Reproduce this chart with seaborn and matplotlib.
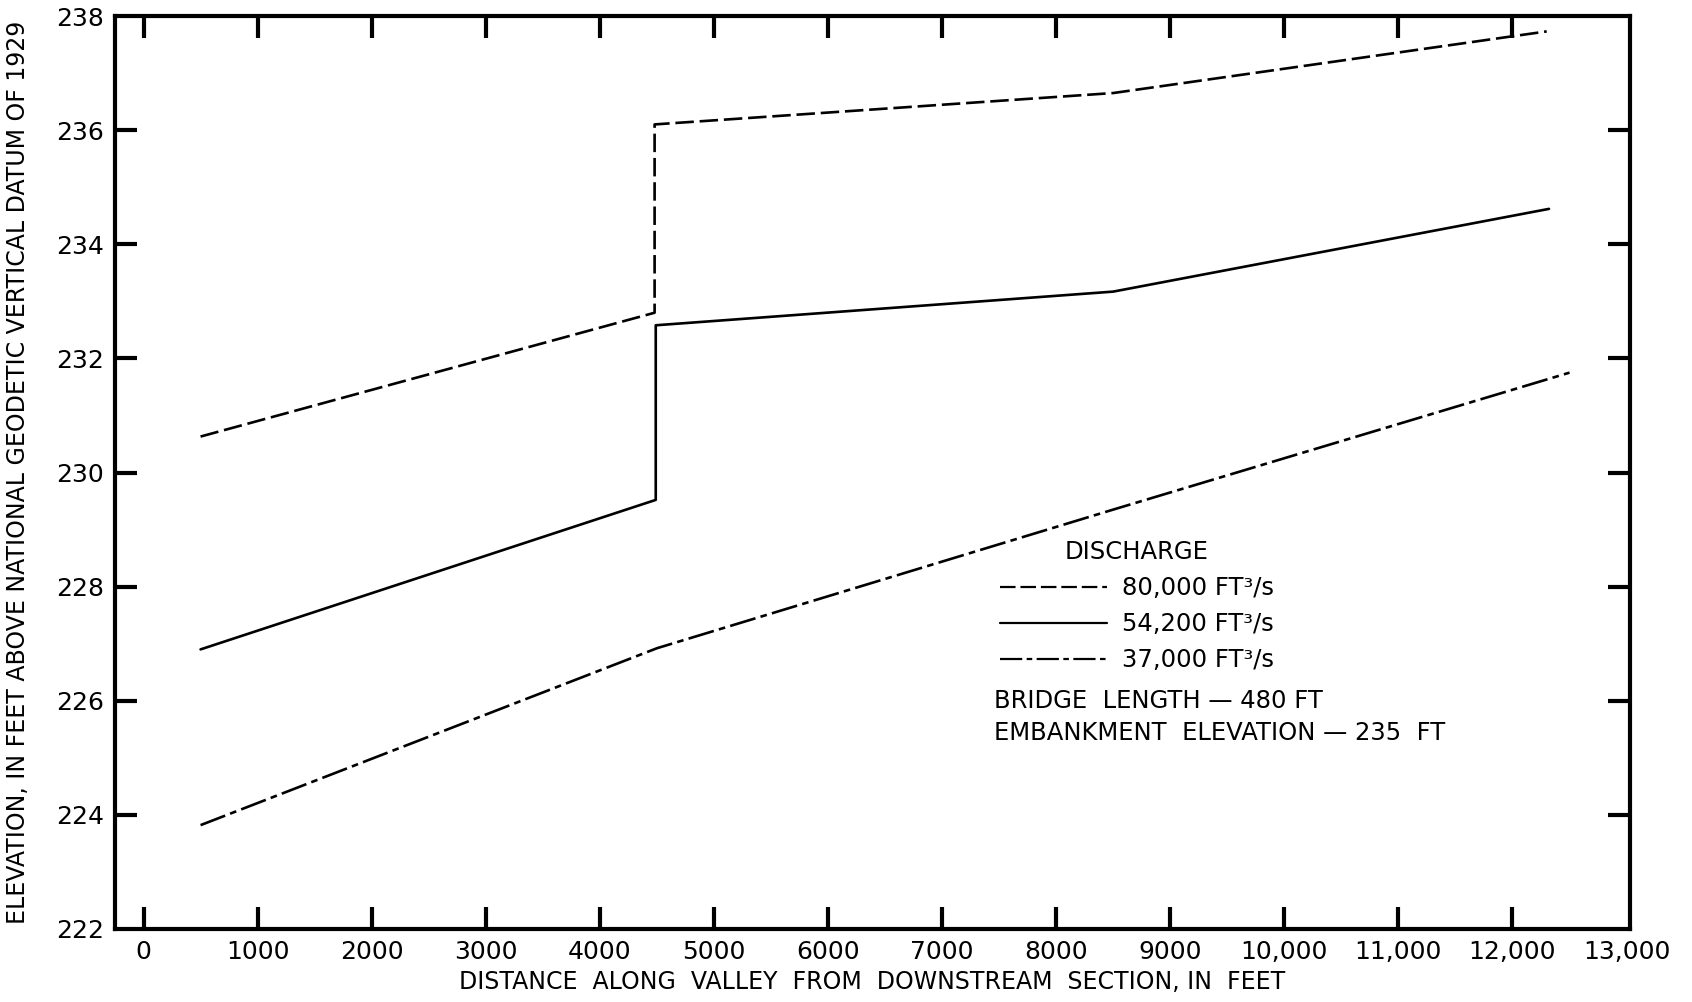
import matplotlib
matplotlib.use("Agg")
import matplotlib.pyplot as plt
import seaborn as sns
import pandas as pd

# ---- data ----
dist_80000 = [500, 4480, 4480, 8500, 12300]
elev_80000 = [230.63, 232.80, 236.10, 236.65, 237.73]

dist_54200 = [500, 4490, 4490, 8500, 12320]
elev_54200 = [226.90, 229.52, 232.58, 233.17, 234.62]

dist_37000 = [500, 4500, 8500, 12500]
elev_37000 = [223.82, 226.92, 229.35, 231.75]

series_labels = ["80,000 FT³/s", "54,200 FT³/s", "37,000 FT³/s"]
x_ticks = list(range(0, 14000, 1000))
x_tick_labels = ["0", "1000", "2000", "3000", "4000", "5000", "6000", "7000",
                 "8000", "9000", "10,000", "11,000", "12,000", "13,000"]
y_ticks = list(range(222, 239, 2))
y_tick_labels = [str(v) for v in y_ticks]

rows = []
for lab, xs, ys in zip(series_labels,
                       [dist_80000, dist_54200, dist_37000],
                       [elev_80000, elev_54200, elev_37000]):
    for i, (xv, yv) in enumerate(zip(xs, ys)):
        rows.append({"dist": xv, "elev": yv, "Discharge": lab, "order": i})
df = pd.DataFrame(rows)

sns.set_theme(style="white")
plt.rcParams['font.family'] = ['DejaVu Sans']
plt.rcParams['text.color'] = 'black'
plt.rcParams['axes.labelcolor'] = 'black'
plt.rcParams['xtick.color'] = 'black'
plt.rcParams['ytick.color'] = 'black'

fig = plt.figure(figsize=(16.92, 10.02), dpi=100)
ax = fig.add_axes([115/1692, 1-929/1002, (1630-115)/1692, (929-16)/1002])

dashes = {
    series_labels[0]: (7, 2.2),
    series_labels[1]: "",
    series_labels[2]: (10, 2, 2.5, 2),
}
sns.lineplot(data=df, x="dist", y="elev", hue="Discharge", style="Discharge",
             palette=["black"] * 3, dashes=dashes, sort=False, estimator=None,
             units="Discharge", linewidth=1.9, ax=ax, legend=True)

ax.set_xlim(-250, 13030)
ax.set_ylim(222, 238)
ax.set_xticks(x_ticks)
ax.set_xticklabels(x_tick_labels, fontsize=18)
ax.set_yticks(y_ticks)
ax.set_yticklabels(y_tick_labels, fontsize=18)

ax.tick_params(axis="both", which="both", direction="in", length=16, width=3,
               color="black", labelcolor="black", top=True, right=True,
               bottom=True, left=True, pad=8)
xt = ax.xaxis.get_major_ticks()
xt[-1].tick1line.set_visible(False)
xt[-1].tick2line.set_visible(False)
yt = ax.yaxis.get_major_ticks()
for t in (yt[0], yt[-1]):
    t.tick1line.set_visible(False)
    t.tick2line.set_visible(False)

for s in ax.spines.values():
    s.set_visible(True)
    s.set_color("black")
    s.set_linewidth(3)

ax.set_xlabel("DISTANCE  ALONG  VALLEY  FROM  DOWNSTREAM  SECTION, IN  FEET",
              fontsize=17, color="black", labelpad=4)
ax.set_ylabel("ELEVATION, IN FEET ABOVE NATIONAL GEODETIC VERTICAL DATUM OF 1929",
              fontsize=17, color="black")
ax.yaxis.set_label_coords(-0.056, 0.5)

leg = ax.legend(title="DISCHARGE", loc="upper left",
                bbox_to_anchor=((1000-115)/1515, (929-540)/913),
                frameon=False, fontsize=17.5, title_fontsize=17.5,
                handlelength=4.4, handletextpad=0.62, labelspacing=0.5,
                borderpad=0, borderaxespad=0)
for line in leg.get_lines():
    line.set_linewidth(1.6)
for t in leg.get_texts():
    t.set_color("black")
leg.get_title().set_color("black")

ax.text((994-115)/1515, (929-701)/913, "BRIDGE  LENGTH — 480 FT",
        transform=ax.transAxes, fontsize=17.5, va="center", ha="left", color="black")
ax.text((994-115)/1515, (929-733)/913, "EMBANKMENT  ELEVATION — 235  FT",
        transform=ax.transAxes, fontsize=17.5, va="center", ha="left", color="black")

fig.savefig("out.png", dpi=100, facecolor="white")
